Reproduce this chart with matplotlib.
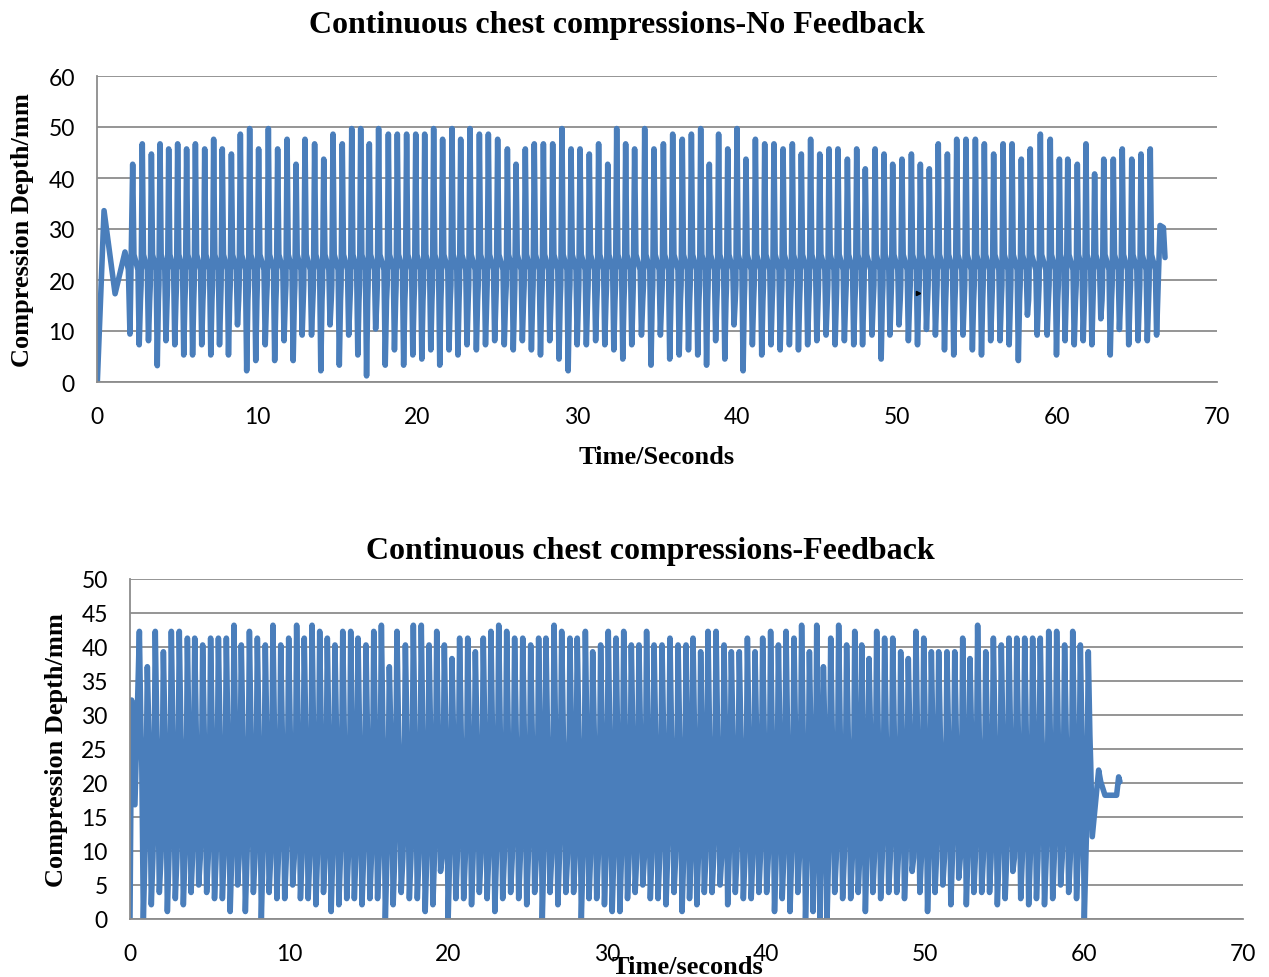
import matplotlib
matplotlib.use("Agg")
import matplotlib.pyplot as plt

# ---- data (seconds, mm) ----

# top chart: no feedback
top_lead_t = [0.02, 0.44, 1.13, 1.75, 1.96, 2.06]
top_lead = [0.0, 33.6, 17.3, 25.5, 22.0, 9.4]

top_peak_t = [2.23, 2.83, 3.40, 3.94, 4.48, 5.04, 5.60, 6.15, 6.73, 7.29,
              7.83, 8.40, 8.96, 9.54, 10.10, 10.71, 11.29, 11.88, 12.44, 13.00,
              13.60, 14.17, 14.75, 15.33, 15.92, 16.48, 17.02, 17.60, 18.21, 18.77,
              19.35, 19.92, 20.48, 21.04, 21.60, 22.19, 22.73, 23.31, 23.90, 24.46,
              25.04, 25.65, 26.19, 26.77, 27.33, 27.90, 28.48, 29.06, 29.63, 30.19,
              30.77, 31.35, 31.92, 32.48, 33.04, 33.60, 34.23, 34.81, 35.40, 35.98,
              36.58, 37.15, 37.73, 38.27, 38.85, 39.42, 40.00, 40.56, 41.15, 41.73,
              42.31, 42.88, 43.46, 44.02, 44.60, 45.17, 45.75, 46.31, 46.90, 47.48,
              48.02, 48.63, 49.19, 49.73, 50.31, 50.90, 51.46, 52.02, 52.58, 53.15,
              53.73, 54.31, 54.90, 55.46, 56.04, 56.63, 57.19, 57.77, 58.33, 58.96,
              59.58, 60.15, 60.67, 61.27, 61.81, 62.35, 62.92, 63.52, 64.08, 64.67,
              65.25, 65.83]
top_peak = [42.7, 46.7, 44.7, 46.7, 45.7, 46.7, 45.7, 46.7, 45.7, 47.6,
            45.7, 44.7, 48.6, 49.7, 45.7, 49.7, 45.7, 47.6, 42.7, 47.6,
            46.7, 43.7, 48.6, 46.7, 49.7, 49.7, 46.7, 49.7, 48.6, 48.6,
            48.6, 48.6, 48.6, 49.7, 47.6, 49.7, 47.6, 49.7, 48.6, 48.6,
            47.6, 45.7, 42.7, 45.7, 46.7, 46.7, 46.7, 49.7, 45.7, 45.7,
            44.7, 46.7, 42.7, 49.7, 46.7, 45.7, 49.7, 45.7, 46.7, 48.6,
            47.6, 48.6, 49.7, 42.7, 48.6, 45.7, 49.7, 43.7, 47.6, 46.7,
            46.7, 45.7, 46.7, 44.7, 47.6, 44.7, 45.7, 45.7, 43.7, 45.7,
            41.8, 45.7, 44.7, 42.7, 43.7, 44.7, 42.7, 41.8, 46.7, 44.7,
            47.6, 47.6, 47.6, 46.7, 44.7, 46.7, 46.7, 43.7, 45.7, 48.6,
            47.6, 43.7, 43.7, 42.7, 46.7, 40.8, 43.7, 43.7, 45.7, 43.7,
            44.7, 45.7]
top_trough = [7.3, 8.1, 3.2, 8.1, 7.3, 5.3, 5.3, 7.3, 5.3, 7.3,
              5.3, 11.2, 2.2, 4.2, 7.3, 4.2, 8.1, 4.2, 9.2, 9.2,
              2.2, 11.2, 3.3, 9.2, 5.3, 1.2, 10.4, 3.3, 6.3, 3.3,
              5.3, 4.5, 6.3, 3.3, 6.3, 5.3, 7.3, 6.3, 7.3, 8.1,
              7.3, 6.3, 8.1, 6.3, 5.3, 8.1, 4.5, 2.2, 7.3, 7.3,
              8.1, 7.3, 6.3, 4.5, 7.3, 9.2, 3.3, 9.2, 4.5, 5.3,
              6.3, 5.3, 3.3, 8.1, 4.5, 11.2, 2.2, 7.3, 5.3, 7.3,
              6.3, 7.3, 6.3, 7.3, 8.1, 9.2, 7.3, 8.1, 7.3, 7.3,
              9.2, 4.5, 9.2, 11.2, 8.1, 7.3, 10.3, 9.2, 6.3, 5.3,
              9.2, 6.3, 5.3, 8.1, 8.1, 7.3, 4.2, 13.1, 9.2, 9.2,
              5.3, 8.1, 7.3, 8.1, 7.3, 12.4, 5.3, 10.3, 7.3, 8.1,
              8.1, 9.2]
top_tail_t = [66.44, 66.65, 66.75]
top_tail = [30.7, 30.3, 24.4]
# resting depth between strokes: before peak, after peak, before trough, after trough
top_rest = [19.0, 25.0, 22.0, 16.0]

# bottom chart: feedback
bot_lead_t = [0.0, 0.10, 0.31]
bot_lead = [0.0, 32.2, 16.8]

bot_peak_t = [0.59, 1.09, 1.59, 2.10, 2.60, 3.10, 3.61, 4.07, 4.57, 5.07,
              5.56, 6.06, 6.54, 7.00, 7.51, 8.01, 8.51, 8.99, 9.48, 9.98,
              10.48, 10.96, 11.45, 11.93, 12.41, 12.89, 13.38, 13.88, 14.34, 14.84,
              15.33, 15.81, 16.31, 16.79, 17.32, 17.82, 18.32, 18.81, 19.29, 19.77,
              20.25, 20.73, 21.24, 21.72, 22.22, 22.70, 23.19,
              23.69, 24.19, 24.70, 25.20, 25.70, 26.16, 26.67, 27.15, 27.67, 28.13,
              28.64, 29.10, 29.60, 30.08, 30.57, 31.05, 31.53, 32.01, 32.49, 32.96,
              33.46, 33.96, 34.47, 34.97, 35.41, 35.89, 36.35, 36.86, 37.36, 37.82,
              38.32, 38.83, 39.31, 39.79, 40.29, 40.78, 41.26, 41.76, 42.24, 42.73,
              43.19, 43.61, 44.07, 44.57, 45.07, 45.58, 46.02, 46.48,
              46.96, 47.46, 47.97, 48.47, 48.95, 49.43, 49.92, 50.40, 50.86, 51.38,
              51.87, 52.37, 52.83, 53.31, 53.82, 54.30, 54.80, 55.28, 55.77, 56.27,
              56.77, 57.25, 57.78, 58.28, 58.78, 59.29, 59.77, 60.27]
bot_peak = [42.3, 37.1, 42.3, 39.3, 42.3, 42.3, 41.3, 41.3, 40.3, 41.3,
            41.3, 41.3, 43.2, 40.3, 42.3, 41.3, 40.3, 43.2, 40.3, 41.3,
            43.2, 41.3, 43.2, 42.3, 41.3, 40.3, 42.3, 42.3, 41.3, 40.3,
            42.3, 43.2, 37.1, 42.3, 40.3, 43.2, 43.2, 40.3, 42.3, 40.3,
            38.3, 41.3, 41.3, 39.3, 41.3, 42.3, 43.2,
            42.3, 41.3, 41.3, 40.3, 41.3, 41.3, 43.2, 42.3, 41.3, 41.3,
            42.3, 39.3, 40.3, 42.3, 41.3, 42.3, 40.3, 40.3, 42.3, 40.3,
            40.3, 41.3, 40.3, 40.3, 41.3, 39.3, 42.3, 42.3, 40.3, 39.3,
            39.3, 41.3, 39.3, 41.3, 42.3, 40.3, 42.3, 41.3, 43.2, 39.3,
            43.2, 37.1, 41.3, 43.2, 40.3, 42.3, 40.3, 38.3,
            42.3, 41.3, 41.3, 39.3, 38.3, 42.3, 41.3, 39.3, 39.3, 39.3,
            39.3, 41.3, 38.3, 43.2, 39.3, 41.3, 40.3, 41.3, 41.3, 41.3,
            41.3, 41.3, 42.3, 42.3, 40.3, 42.3, 40.3, 39.3]
bot_trough = [0.0, 2.1, 3.9, 1.1, 3.0, 2.1, 3.9, 5.0, 3.9, 3.0,
              3.0, 1.1, 5.0, 1.1, 3.9, 0.0, 3.9, 3.0, 3.0, 5.0,
              3.0, 3.0, 2.1, 3.9, 1.1, 2.1, 3.0, 3.0, 2.1, 3.0,
              3.0, 0.0, 2.1, 3.9, 3.0, 3.0, 1.1, 2.1, 7.0, 0.0,
              3.0, 3.0, 2.1, 3.9, 3.0, 1.1,
              3.0, 3.9, 3.0, 2.1, 3.9, 0.0, 3.9, 2.1, 3.9, 3.9,
              0.0, 3.0, 3.0, 2.1, 1.1, 1.1, 3.0, 3.9, 5.0, 3.0,
              3.0, 2.1, 3.9, 1.1, 3.0, 2.1, 3.9, 3.9, 5.0, 2.1,
              3.9, 3.0, 3.0, 3.9, 3.9, 1.1, 3.0, 1.1, 3.9, 0.0,
              1.1, 0.0, 0.0, 3.9, 3.0, 3.0, 3.9, 1.1,
              3.9, 3.0, 3.9, 3.9, 3.0, 7.0, 3.9, 1.1, 3.9, 5.0,
              2.1, 6.0, 2.1, 3.9, 3.9, 3.9, 2.1, 3.0, 7.0, 3.0,
              2.1, 3.0, 2.1, 3.0, 5.0, 3.9, 3.0, 0.0, 12.1]
bot_tail_t = [60.92, 61.05, 61.32, 62.05, 62.18, 62.26]
bot_tail = [21.9, 20.2, 18.2, 18.2, 20.9, 20.2]
bot_rest = [14.0, 27.0, 23.0, 9.0]

LINE = "#4A7EBB"
GRID = "#8C8C8C"


def build_trace(lead_t, lead, peak_t, peak, trough, rest, tail_t, tail,
                down_frac, half_w):
    # each compression: a narrow spike up from the resting depth, then a
    # narrow recoil dip below it, both joined by the resting level
    ts = list(lead_t)
    vs = list(lead)
    n = len(peak_t)
    for i in range(n):
        if i + 1 < n:
            dt = peak_t[i + 1] - peak_t[i]
        else:
            dt = peak_t[i] - peak_t[i - 1]
        tp = peak_t[i]
        tt = tp + down_frac * dt
        pts = [(tp - half_w * dt, rest[0]), (tp, peak[i]),
               (tp + half_w * dt, rest[1]), (tt - half_w * dt, rest[2]),
               (tt, trough[i])]
        if i < n - 1:
            pts.append((tt + half_w * dt, rest[3]))
        if i == 0:
            pts = pts[1:]
        for t, v in pts:
            ts.append(t)
            vs.append(v)
    ts += tail_t
    vs += tail
    return ts, vs


def style_axes(ax, ymax, ystep):
    ax.set_xlim(0, 70)
    ax.set_ylim(0, ymax)
    ax.set_xticks(range(0, 71, 10))
    ax.set_yticks(range(0, ymax + 1, ystep))
    ax.grid(axis="y", color=GRID, linewidth=1.3)
    ax.set_axisbelow(True)
    for s in ["top", "right"]:
        ax.spines[s].set_visible(False)
    for s in ["left", "bottom"]:
        ax.spines[s].set_color(GRID)
        ax.spines[s].set_linewidth(1.3)
    ax.tick_params(length=0, labelsize=16.5, pad=16)
    ax.tick_params(axis="x", pad=17)
    for lab in ax.get_xticklabels() + ax.get_yticklabels():
        lab.set_fontfamily("Lato")


W, H = 1269, 978
fig = plt.figure(figsize=(W / 100, H / 100), dpi=100)

serif = {"family": "Liberation Serif", "weight": "bold"}

# top panel
ax1 = fig.add_axes([97 / W, 1 - 383 / H, 1120 / W, 306 / H])
t1, v1 = build_trace(top_lead_t, top_lead, top_peak_t, top_peak, top_trough,
                     top_rest, top_tail_t, top_tail, 0.68, 0.13)
ax1.plot(t1, v1, color=LINE, linewidth=4.0, solid_joinstyle="round",
         solid_capstyle="round")
ax1.plot([51.33], [17.5], marker=">", color="black", markersize=3)
style_axes(ax1, 60, 10)

# bottom panel
ax2 = fig.add_axes([130 / W, 1 - 920 / H, 1113 / W, 340 / H])
t2, v2 = build_trace(bot_lead_t, bot_lead, bot_peak_t, bot_peak, bot_trough,
                     bot_rest, bot_tail_t, bot_tail, 0.5, 0.2)
ax2.plot(t2, v2, color=LINE, linewidth=4.0, solid_joinstyle="round",
         solid_capstyle="round")
style_axes(ax2, 50, 5)

# titles and axis labels placed like the original
fig.text(617 / W, 1 - 26 / H, "Continuous chest compressions-No Feedback",
         ha="center", va="center", fontsize=23, **serif)
fig.text(657 / W, 1 - 458 / H, "Time/Seconds", ha="center", va="center",
         fontsize=19, **serif)
fig.text(23 / W, 1 - 230 / H, "Compression Depth/mm", ha="center", va="center",
         rotation=90, fontsize=19, **serif)

fig.text(650 / W, 1 - 551 / H, "Continuous chest compressions-Feedback",
         ha="center", va="center", fontsize=23, **serif)
fig.text(687 / W, 1 - 968 / H, "Time/seconds", ha="center", va="center",
         fontsize=19, **serif)
fig.text(57 / W, 1 - 750 / H, "Compression Depth/mm", ha="center", va="center",
         rotation=90, fontsize=19, **serif)

fig.savefig("out.png", dpi=100)
